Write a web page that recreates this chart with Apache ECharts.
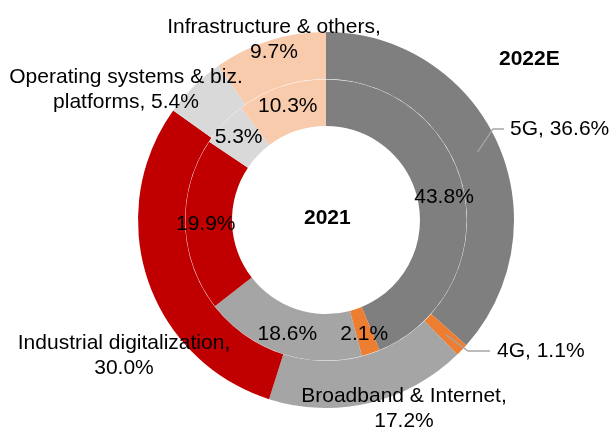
<!DOCTYPE html>
<html>
<head>
<meta charset="utf-8">
<script src="https://cdn.jsdelivr.net/npm/echarts@6/dist/echarts.min.js"></script>
<style>
html, body { margin: 0; padding: 0; background: #fff; }
#chart { width: 614px; height: 429px; }
</style>
</head>
<body>
<div id="chart"></div>
<script>
var categories = ['5G', '4G', 'Broadband & Internet', 'Industrial digitalization', 'Operating systems & biz. platforms', 'Infrastructure & others'];
var share2021 = [43.8, 2.1, 18.6, 19.9, 5.3, 10.3];
var share2022E = [36.6, 1.1, 17.2, 30.0, 5.4, 9.7];
var outerLabelText = ['5G, ', '4G, ', 'Broadband & Internet,\n', 'Industrial digitalization,\n', 'Operating systems & biz.\nplatforms, ', 'Infrastructure & others,\n'];
var colors = ['#7f7f7f', '#ed7d31', '#a5a5a5', '#c00000', '#d9d9d9', '#f8cbad'];

var font = "'Liberation Sans', Arial, sans-serif";
var cx = 326, cy = 220;
var innerR = [94, 140.6], outerR = [141, 188];

// where each outer label sits: [x, y, align, elbowX, lineEndX]
var outerLabelPos = [
    [510, 129, 'left', 493, 504],
    [497, 351, 'left', 468, 490],
    [404, 409, 'center'],
    [124, 356, 'center'],
    [126, 90, 'center'],
    [274, 40, 'center']
];

// mid angle of a slice (clockwise from 12 o'clock)
function midAngle(values, idx) {
    var total = 0, before = 0;
    values.forEach(function (v, i) { total += v; if (i < idx) before += v; });
    return (before + values[idx] / 2) / total * Math.PI * 2;
}

var innerData = categories.map(function (c, i) {
    return { name: c, value: share2021[i], itemStyle: { color: colors[i] } };
});
var outerData = categories.map(function (c, i) {
    return { name: c, value: share2022E[i], itemStyle: { color: colors[i] } };
});

// leader lines from the middle of the outer ring to the label
var leaders = [];
outerLabelPos.forEach(function (pos, i) {
    if (pos.length < 4) return;
    var a = midAngle(share2022E, i);
    var r = 166;
    leaders.push({
        type: 'polyline',
        z: 10,
        shape: { points: [[cx + r * Math.sin(a), cy - r * Math.cos(a)], [pos[3], pos[1]], [pos[4], pos[1]]] },
        style: { stroke: '#a6a6a6', lineWidth: 1.3, fill: null }
    });
});

var myChart = echarts.init(document.getElementById('chart'));
myChart.setOption({
    animation: false,
    backgroundColor: '#fff',
    graphic: leaders.concat([
        { type: 'text', left: cx - 22, top: cy - 12, style: { text: '2021', font: 'bold 21px ' + font, fill: '#000' } },
        { type: 'text', left: 499, top: 49, style: { text: '2022E', font: 'bold 21px ' + font, fill: '#000' } }
    ]),
    series: [
        {
            type: 'pie',
            silent: true,
            center: [cx, cy],
            radius: innerR,
            startAngle: 90,
            avoidLabelOverlap: false,
            itemStyle: { borderWidth: 0 },
            label: {
                position: 'inside',
                fontFamily: font,
                fontSize: 21,
                color: '#000',
                formatter: function (p) { return p.value.toFixed(1) + '%'; }
            },
            labelLine: { show: false },
            data: innerData
        },
        {
            type: 'pie',
            silent: true,
            center: [cx, cy],
            radius: outerR,
            startAngle: 90,
            avoidLabelOverlap: false,
            itemStyle: { borderWidth: 0 },
            label: {
                position: 'outside',
                fontFamily: font,
                fontSize: 21,
                lineHeight: 25,
                color: '#000',
                formatter: function (p) { return outerLabelText[p.dataIndex] + p.value.toFixed(1) + '%'; }
            },
            labelLine: { show: false },
            labelLayout: function (p) {
                var pos = outerLabelPos[p.dataIndex];
                return { x: pos[0], y: pos[1], align: pos[2], verticalAlign: 'middle' };
            },
            data: outerData
        }
    ]
});
</script>
</body>
</html>
